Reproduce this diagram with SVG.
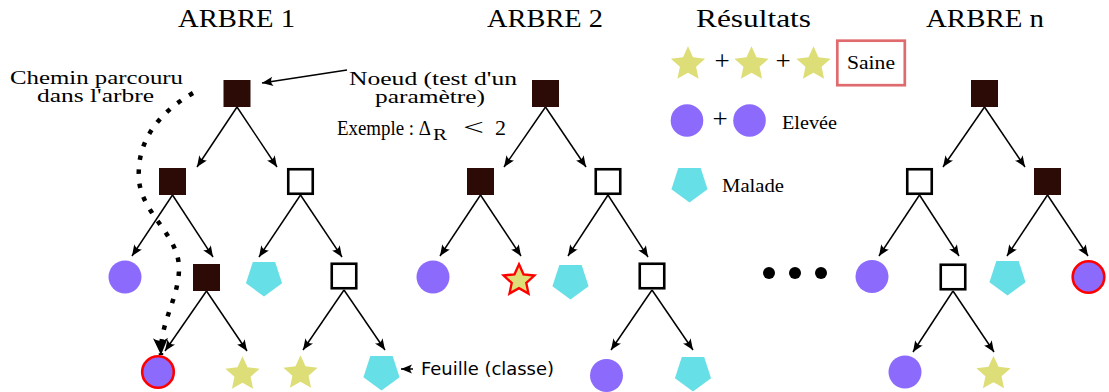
<svg xmlns="http://www.w3.org/2000/svg" xmlns:xlink="http://www.w3.org/1999/xlink" width="1109" height="392" viewBox="0 0 1109 392">
<style>
.serif{font-family:"Liberation Serif","DejaVu Serif",serif;fill:#000}
.sans{font-family:"DejaVu Sans","Liberation Sans",sans-serif;fill:#000}
.dark{fill:#2c0a06}
.white{fill:#fff;stroke:#000;stroke-width:2.6}
.circ{fill:#8c6bfc}
.red{stroke:#ff0000;stroke-width:2.6}
.pent{fill:#66dfe6}
.star{fill:#dede78}
.edge{stroke:#000;stroke-width:1.5;fill:none;marker-end:url(#ah)}
</style>
<defs>
<marker id="ah" markerUnits="userSpaceOnUse" orient="auto" overflow="visible" refX="0" refY="0" markerWidth="1" markerHeight="1">
<path d="M0,0 L-11,-4.6 Q-7.3,0 -11,4.6 Z" fill="#000"/>
</marker>
<marker id="bigah" markerUnits="userSpaceOnUse" orient="auto" overflow="visible" refX="0" refY="0" markerWidth="1" markerHeight="1">
<path d="M0,0 L-17,-7.5 Q-11,0 -17,7.5 Z" fill="#000"/>
</marker>
<polygon id="starshape" points="0,-18 5,-6.88 17.12,-5.56 8.08,2.63 10.58,14.56 0,8.5 -10.58,14.56 -8.08,2.63 -17.12,-5.56 -5,-6.88"/>
<polygon id="pentshape" points="0,19 -18.07,5.87 -11.17,-15.37 11.17,-15.37 18.07,5.87"/>
</defs>
<rect width="1109" height="392" fill="#fff"/>

<g id="titles" class="serif" font-size="26">
<text x="178" y="27" textLength="117" lengthAdjust="spacingAndGlyphs">ARBRE 1</text>
<text x="487" y="27" textLength="116" lengthAdjust="spacingAndGlyphs">ARBRE 2</text>
<text x="696" y="27" textLength="115" lengthAdjust="spacingAndGlyphs">Résultats</text>
<text x="926" y="27" textLength="118" lengthAdjust="spacingAndGlyphs">ARBRE n</text>
</g>

<g id="labels">
<text class="serif" font-size="19.5"><tspan x="10" y="84" textLength="173" lengthAdjust="spacingAndGlyphs">Chemin parcouru</tspan><tspan x="37" y="102" textLength="117" lengthAdjust="spacingAndGlyphs">dans l'arbre</tspan></text>
<text class="serif" font-size="19.5"><tspan x="349" y="85" textLength="168" lengthAdjust="spacingAndGlyphs">Noeud (test d'un</tspan><tspan x="375" y="103" textLength="110" lengthAdjust="spacingAndGlyphs">paramètre)</tspan></text>
<text class="serif" font-size="20"><tspan x="337" y="135" textLength="94" lengthAdjust="spacingAndGlyphs">Exemple : Δ</tspan><tspan x="433" y="140" font-size="16" textLength="14" lengthAdjust="spacingAndGlyphs">R</tspan><tspan x="463" y="135" font-size="24" textLength="21" lengthAdjust="spacingAndGlyphs">&lt;</tspan><tspan x="495" y="135" font-size="22">2</tspan></text>
<text class="sans" font-size="17.5" x="421" y="375" textLength="133" lengthAdjust="spacingAndGlyphs">Feuille (classe)</text>
</g>

<g id="connectors">
<path d="M193,93 C160,112 136,140 139,180 C142,215 180,235 179,270 C178,300 160,322 161,355" fill="none" stroke="#000" stroke-width="4.5" stroke-dasharray="4.5 9.5" marker-end="url(#bigah)"/>
<line class="edge" x1="347" y1="70" x2="262" y2="83"/>
<line class="edge" x1="413" y1="369" x2="401" y2="369"/>
<line class="edge" x1="237" y1="107" x2="197" y2="167"/>
<line class="edge" x1="237" y1="107" x2="277" y2="167"/>
<line class="edge" x1="172.5" y1="195" x2="132" y2="256"/>
<line class="edge" x1="172.5" y1="195" x2="213" y2="257"/>
<line class="edge" x1="300.5" y1="195" x2="259" y2="257"/>
<line class="edge" x1="300.5" y1="195" x2="342" y2="257"/>
<line class="edge" x1="206.5" y1="291" x2="165" y2="351"/>
<line class="edge" x1="206.5" y1="291" x2="247" y2="351"/>
<line class="edge" x1="344" y1="290" x2="303" y2="350"/>
<line class="edge" x1="344" y1="290" x2="385" y2="350"/>
<line class="edge" x1="545.5" y1="107" x2="504" y2="167"/>
<line class="edge" x1="545.5" y1="107" x2="586" y2="167"/>
<line class="edge" x1="480.5" y1="195" x2="440" y2="256"/>
<line class="edge" x1="480.5" y1="195" x2="521" y2="256"/>
<line class="edge" x1="608" y1="195" x2="568" y2="256"/>
<line class="edge" x1="608" y1="195" x2="648" y2="257"/>
<line class="edge" x1="652" y1="290" x2="611" y2="350"/>
<line class="edge" x1="652" y1="290" x2="693" y2="350"/>
<line class="edge" x1="984.5" y1="107" x2="943" y2="167"/>
<line class="edge" x1="984.5" y1="107" x2="1025" y2="167"/>
<line class="edge" x1="919.5" y1="195" x2="879" y2="256"/>
<line class="edge" x1="919.5" y1="195" x2="959" y2="256"/>
<line class="edge" x1="1047.5" y1="195" x2="1007" y2="256"/>
<line class="edge" x1="1047.5" y1="195" x2="1088" y2="256"/>
<line class="edge" x1="953" y1="291" x2="913" y2="352"/>
<line class="edge" x1="953" y1="291" x2="994" y2="352"/>
</g>

<g id="t1-root"><rect class="dark" x="223.5" y="80" width="27" height="27"/></g>
<g id="t1-n2"><rect class="dark" x="159" y="168" width="27" height="27"/></g>
<g id="t1-n3"><rect class="white" x="288.25" y="169.25" width="24.5" height="24.5"/></g>
<g id="t1-leaf1"><circle class="circ" cx="125" cy="277" r="16.5"/></g>
<g id="t1-n4"><rect class="dark" x="193" y="264" width="27" height="27"/></g>
<g id="t1-leaf2"><use xlink:href="#pentshape" class="pent" x="264" y="277.4"/></g>
<g id="t1-n5"><rect class="white" x="331.75" y="263.75" width="24.5" height="24.5"/></g>
<g id="t1-leaf3"><circle class="circ red" cx="158" cy="372" r="15.8"/></g>
<g id="t1-leaf4"><use xlink:href="#starshape" class="star" x="242.5" y="374.2"/></g>
<g id="t1-leaf5"><use xlink:href="#starshape" class="star" x="300.5" y="373.2"/></g>
<g id="t1-leaf6"><use xlink:href="#pentshape" class="pent" x="381.5" y="371.4"/></g>

<g id="t2-root"><rect class="dark" x="532" y="80" width="27" height="27"/></g>
<g id="t2-n2"><rect class="dark" x="467" y="168" width="27" height="27"/></g>
<g id="t2-n3"><rect class="white" x="595.75" y="169.25" width="24.5" height="24.5"/></g>
<g id="t2-leaf1"><circle class="circ" cx="433" cy="277" r="16.5"/></g>
<g id="t2-leaf2"><use xlink:href="#starshape" class="star red" transform="translate(519,280.5) scale(0.9)"/></g>
<g id="t2-leaf3"><use xlink:href="#pentshape" class="pent" x="570.5" y="280.4"/></g>
<g id="t2-n4"><rect class="white" x="639.75" y="263.75" width="24.5" height="24.5"/></g>
<g id="t2-leaf4"><circle class="circ" cx="606.5" cy="375.5" r="16.5"/></g>
<g id="t2-leaf5"><use xlink:href="#pentshape" class="pent" x="693" y="372.4"/></g>

<g id="ellipsis" fill="#000">
<circle cx="769" cy="273" r="6"/>
<circle cx="795" cy="273" r="6"/>
<circle cx="821" cy="273" r="6"/>
</g>

<g id="tn-root"><rect class="dark" x="971" y="80" width="27" height="27"/></g>
<g id="tn-n2"><rect class="white" x="907.25" y="169.25" width="24.5" height="24.5"/></g>
<g id="tn-n3"><rect class="dark" x="1034" y="168" width="27" height="27"/></g>
<g id="tn-leaf1"><circle class="circ" cx="872" cy="276.5" r="16.5"/></g>
<g id="tn-n4"><rect class="white" x="940.75" y="264.75" width="24.5" height="24.5"/></g>
<g id="tn-leaf2"><use xlink:href="#pentshape" class="pent" x="1007.5" y="276.4"/></g>
<g id="tn-leaf3"><circle class="circ red" cx="1088.5" cy="277" r="15.8"/></g>
<g id="tn-leaf4"><circle class="circ" cx="905" cy="372" r="16.5"/></g>
<g id="tn-leaf5"><use xlink:href="#starshape" class="star" x="993.5" y="373.7"/></g>

<g id="res-saine">
<use xlink:href="#starshape" class="star" x="688" y="64.2"/>
<text class="serif" font-size="27" x="722" y="70" text-anchor="middle">+</text>
<use xlink:href="#starshape" class="star" x="751.5" y="64.2"/>
<text class="serif" font-size="27" x="783" y="70" text-anchor="middle">+</text>
<use xlink:href="#starshape" class="star" x="813.5" y="64.2"/>
<rect x="837.3" y="40.7" width="67.5" height="44.5" fill="#fff" stroke="#e06b6e" stroke-width="2.7"/>
<text class="serif" font-size="18" x="847" y="69" textLength="48" lengthAdjust="spacingAndGlyphs">Saine</text>
</g>
<g id="res-elevee">
<circle class="circ" cx="687" cy="120.5" r="16.3"/>
<text class="serif" font-size="27" x="720" y="127.5" text-anchor="middle">+</text>
<circle class="circ" cx="749.5" cy="120.5" r="16.3"/>
<text class="serif" font-size="18" x="782" y="129" textLength="55" lengthAdjust="spacingAndGlyphs">Elevée</text>
</g>
<g id="res-malade">
<use xlink:href="#pentshape" class="pent" x="689.5" y="183.4"/>
<text class="serif" font-size="18" x="722" y="192" textLength="62" lengthAdjust="spacingAndGlyphs">Malade</text>
</g>
</svg>
